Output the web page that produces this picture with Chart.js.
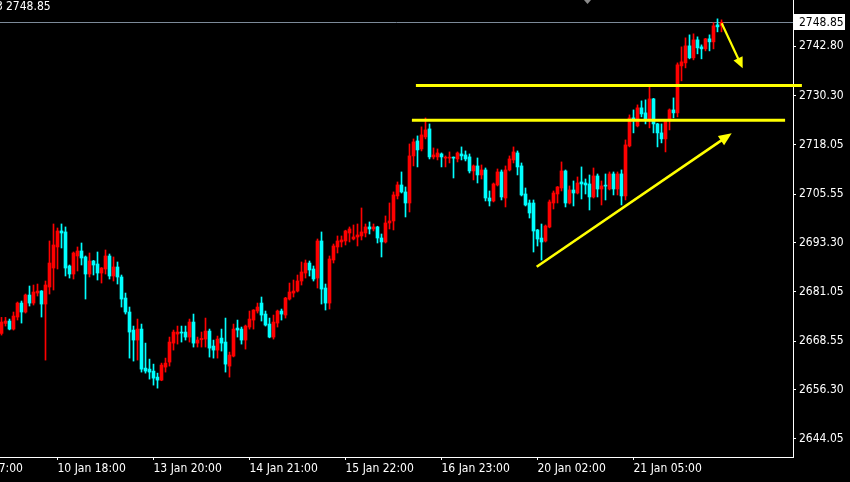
<!DOCTYPE html>
<html><head><meta charset="utf-8">
<script src="https://cdn.jsdelivr.net/npm/chart.js@4.4.1/dist/chart.umd.min.js"></script>
<style>html,body{margin:0;padding:0;background:#000;overflow:hidden}canvas{display:block}</style>
</head><body>
<canvas id="c" width="850" height="482"></canvas>
<script>
// ---- Data (H1 candles) ----
const opens = [2670.52,2673.04,2673.63,2671.61,2674.64,2678.16,2675.90,2680.18,2678.16,2680.68,
2681.19,2677.91,2682.20,2686.98,2692.28,2696.31,2696.06,2687.49,2685.47,2690.01,
2691.27,2689.76,2685.47,2688.75,2687.99,2685.72,2686.73,2690.01,2684.97,2687.24,
2684.72,2679.42,2675.90,2671.36,2668.84,2671.61,2661.78,2661.53,2661.03,2659.52,
2658.76,2662.04,2663.30,2668.08,2670.35,2670.86,2670.86,2669.60,2673.38,2668.08,
2668.92,2669.09,2671.11,2667.33,2666.32,2669.34,2668.34,2662.29,2664.81,2671.86,
2671.61,2668.84,2672.12,2673.88,2676.15,2678.16,2675.39,2672.87,2669.60,2673.12,
2676.15,2675.14,2679.17,2680.68,2681.19,2683.71,2685.72,2688.24,2686.73,2684.46,
2693.79,2681.94,2678.16,2689.00,2692.28,2693.54,2693.79,2695.80,2694.29,2694.80,
2695.05,2695.80,2697.32,2696.81,2697.32,2694.54,2693.54,2698.32,2698.83,2705.13,
2707.89,2706.13,2703.35,2715.20,2718.98,2716.96,2719.99,2722.00,2714.95,2714.95,
2715.70,2714.65,2714.65,2714.75,2714.44,2715.70,2715.45,2714.95,2711.42,2712.68,
2710.41,2711.67,2704.61,2703.86,2707.89,2711.17,2704.61,2711.67,2714.19,2715.95,
2712.68,2705.62,2703.35,2703.35,2696.55,2694.53,2693.78,2697.31,2703.35,2705.62,
2707.13,2711.42,2703.35,2706.63,2705.87,2708.65,2708.39,2708.14,2704.87,2710.16,
2706.88,2707.70,2706.88,2710.66,2706.88,2710.67,2705.13,2717.72,2724.78,2722.76,
2727.30,2726.04,2724.27,2729.56,2723.26,2721.00,2719.49,2724.02,2726.79,2726.04,
2737.87,2738.63,2742.91,2739.89,2744.42,2742.66,2742.16,2744.68,2743.92,2748.20,
2747.95];
const highs = [2674.55,2674.55,2674.13,2675.90,2678.42,2678.67,2680.43,2682.45,2682.70,2682.95,
2681.30,2683.71,2693.79,2698.07,2697.06,2698.07,2697.32,2687.74,2691.02,2692.28,
2693.28,2690.01,2690.76,2688.90,2691.02,2687.10,2691.52,2690.51,2689.76,2688.50,
2685.22,2680.68,2677.16,2672.37,2674.13,2672.87,2668.08,2664.05,2662.79,2660.52,
2663.04,2664.30,2669.60,2671.36,2672.37,2672.37,2672.37,2674.13,2675.39,2669.60,
2670.86,2674.38,2671.61,2668.84,2669.85,2671.61,2674.38,2665.82,2672.87,2673.88,
2672.12,2672.62,2676.15,2676.50,2678.16,2679.68,2676.15,2674.38,2675.14,2676.40,
2676.65,2679.60,2683.20,2683.96,2685.22,2688.50,2689.00,2688.75,2687.49,2694.29,
2696.06,2682.95,2690.01,2693.03,2695.05,2695.05,2696.50,2697.32,2697.82,2698.07,
2702.10,2698.07,2698.58,2698.07,2697.50,2695.55,2700.09,2703.36,2706.14,2708.65,
2711.17,2707.39,2718.22,2719.48,2720.24,2722.51,2724.77,2723.26,2717.21,2716.96,
2715.95,2715.20,2716.21,2714.95,2716.21,2717.47,2716.46,2715.70,2712.93,2714.69,
2712.93,2712.17,2706.38,2708.39,2711.92,2711.67,2712.68,2715.20,2717.47,2716.46,
2713.43,2707.13,2704.11,2704.11,2696.70,2698.06,2697.81,2704.11,2706.38,2707.50,
2713.69,2711.67,2707.64,2708.90,2709.91,2712.43,2709.40,2710.41,2712.17,2710.66,
2708.90,2710.66,2711.17,2711.17,2711.17,2711.68,2719.23,2725.53,2726.79,2728.05,
2729.06,2729.31,2732.58,2729.70,2723.40,2723.26,2724.20,2727.04,2729.81,2738.63,
2742.66,2744.93,2745.68,2745.94,2745.18,2743.16,2744.80,2745.68,2748.71,2749.71,
2749.46];
const lows = [2670.10,2672.37,2671.40,2671.36,2673.88,2673.12,2675.64,2677.41,2677.66,2679.93,
2674.64,2663.80,2680.43,2681.44,2686.73,2692.02,2684.97,2684.46,2684.21,2686.23,
2687.74,2679.17,2684.72,2685.22,2683.96,2683.20,2685.47,2684.21,2683.71,2682.95,
2677.16,2675.39,2664.30,2663.55,2663.80,2660.78,2660.52,2659.01,2657.50,2656.74,
2658.60,2660.78,2662.29,2666.32,2667.83,2668.34,2668.84,2668.34,2667.08,2667.08,
2667.08,2667.08,2664.56,2664.30,2664.30,2666.07,2660.78,2659.52,2664.60,2669.60,
2667.83,2666.57,2671.61,2671.61,2675.64,2673.63,2672.37,2669.40,2669.09,2672.12,
2673.88,2674.38,2678.92,2679.68,2680.94,2682.70,2684.46,2684.97,2683.71,2681.94,
2677.91,2676.40,2676.65,2688.24,2690.76,2692.28,2692.78,2693.54,2694.04,2692.53,
2694.04,2694.80,2695.55,2696.31,2693.28,2689.76,2693.28,2696.81,2696.56,2704.37,
2705.87,2699.83,2701.09,2712.68,2712.43,2716.46,2719.48,2714.44,2714.44,2714.19,
2712.43,2712.43,2713.43,2709.65,2713.69,2714.19,2713.94,2710.91,2709.15,2708.39,
2709.40,2703.86,2702.60,2703.61,2707.64,2704.11,2702.35,2711.42,2713.43,2710.41,
2705.12,2702.60,2699.57,2691.01,2692.52,2688.99,2693.53,2697.10,2701.84,2703.35,
2706.38,2702.35,2703.10,2702.60,2705.62,2704.36,2705.62,2701.59,2704.61,2704.87,
2702.85,2704.11,2706.63,2705.37,2705.37,2702.86,2704.12,2717.47,2721.00,2722.51,
2725.03,2723.26,2722.26,2721.00,2717.47,2718.48,2716.21,2721.75,2724.78,2725.03,
2734.10,2737.37,2739.64,2739.39,2740.90,2739.64,2741.65,2741.65,2742.16,2746.44,
2746.44];
const closes = [2673.38,2673.63,2671.61,2674.89,2678.16,2675.90,2680.18,2678.16,2680.94,2681.19,
2677.91,2682.70,2688.24,2692.78,2696.31,2695.80,2686.98,2685.47,2690.76,2691.27,
2689.50,2685.47,2688.75,2687.74,2685.72,2686.98,2690.01,2684.97,2687.24,2684.72,
2679.17,2675.90,2670.86,2668.84,2671.61,2661.53,2661.03,2660.78,2659.26,2658.76,
2662.54,2663.04,2668.34,2670.86,2670.86,2670.60,2669.60,2673.38,2668.08,2668.84,
2669.26,2671.11,2666.82,2666.32,2669.09,2668.08,2662.79,2665.06,2671.61,2671.36,
2668.84,2672.37,2674.13,2676.40,2677.16,2675.14,2672.62,2669.60,2673.38,2676.15,
2675.39,2679.42,2680.94,2681.19,2683.71,2685.98,2688.24,2686.48,2684.21,2693.79,
2681.69,2678.16,2689.25,2692.53,2693.79,2694.04,2696.31,2696.81,2694.80,2695.30,
2696.06,2697.32,2696.81,2697.32,2694.54,2693.54,2698.32,2698.83,2705.38,2707.90,
2706.13,2703.35,2715.20,2718.73,2716.71,2720.49,2721.75,2714.95,2715.45,2715.95,
2714.95,2714.75,2714.75,2714.65,2715.95,2715.20,2714.44,2711.42,2712.68,2710.41,
2711.67,2704.61,2703.86,2708.14,2711.17,2704.87,2711.67,2714.44,2716.21,2712.43,
2705.37,2702.85,2700.83,2696.30,2694.28,2693.53,2697.56,2703.61,2705.87,2707.39,
2711.42,2703.35,2706.63,2705.87,2708.39,2708.14,2707.89,2704.87,2710.16,2706.88,
2707.64,2707.60,2710.66,2706.88,2710.66,2705.13,2717.97,2724.78,2724.27,2727.30,
2725.78,2724.27,2729.56,2723.26,2721.00,2719.49,2724.02,2726.79,2726.04,2738.13,
2738.88,2742.91,2739.89,2744.42,2742.41,2742.16,2744.68,2743.92,2747.95,2747.70,
2748.85];

// Time-axis labels at bar indices
const xTickIndex  = [-10, 14, 38, 62, 86, 110, 134, 158];
const xTickLabels = ["9 Jan 17:00","10 Jan 18:00","13 Jan 20:00","14 Jan 21:00","15 Jan 22:00","16 Jan 23:00","20 Jan 02:00","21 Jan 05:00"];
// Price-axis labels
const yTickValues = [2742.80, 2730.30, 2718.05, 2705.55, 2693.30, 2681.05, 2668.55, 2656.30, 2644.05];
const lastPrice = 2748.85;

// Drawn annotations (bar index / price)
const levelPrices = [2732.93, 2724.17];
const levelFrom   = [103.6, 102.6];
const levelTo     = [200.1, 195.9];
const arrowFromIdx   = [133.8, 180.05];
const arrowFromPrice = [2687.31, 2748.59];
const arrowToIdx     = [182.55, 185.3];
const arrowToPrice   = [2720.90, 2737.26];

// ---- Chart ----
const idx = opens.map((_, i) => i);
const bodies = idx.map(i => ({x: i, y: [opens[i], closes[i]]}));
const wicks  = idx.map(i => ({x: i, y: [lows[i], highs[i]]}));
const colors = idx.map(i => closes[i] >= opens[i] ? '#ff0000' : '#00ffff');

const FONT = '"DejaVu Sans Condensed", "DejaVu Sans"';
const FSIZE = 12;

function drawArrow(ctx, x1, y1, x2, y2, lw, headLen, headHalf) {
  const dx = x2 - x1, dy = y2 - y1, L = Math.hypot(dx, dy);
  const ux = dx / L, uy = dy / L;
  const bx = x2 - ux * headLen, by = y2 - uy * headLen;
  ctx.strokeStyle = '#ffff00';
  ctx.fillStyle = '#ffff00';
  ctx.lineWidth = lw;
  ctx.beginPath(); ctx.moveTo(x1, y1); ctx.lineTo(bx + ux, by + uy); ctx.stroke();
  ctx.beginPath();
  ctx.moveTo(x2, y2);
  ctx.lineTo(bx - uy * headHalf, by + ux * headHalf);
  ctx.lineTo(bx + uy * headHalf, by - ux * headHalf);
  ctx.closePath(); ctx.fill();
}

const overlay = {
  id: 'overlay',
  beforeDraw(chart) {
    const c = chart.ctx;
    c.save(); c.fillStyle = '#000'; c.fillRect(0, 0, chart.width, chart.height); c.restore();
  },
  beforeDatasetsDraw(chart) {
    const c = chart.ctx, y = chart.scales.y, a = chart.chartArea;
    const py = Math.round(y.getPixelForValue(lastPrice)) + 0.5;
    c.save();
    c.strokeStyle = '#7c8a99'; c.lineWidth = 1;
    c.beginPath(); c.moveTo(a.left, py); c.lineTo(a.right, py); c.stroke();
    c.restore();
  },
  afterDatasetsDraw(chart) {
    const c = chart.ctx, x = chart.scales.x, y = chart.scales.y;
    c.save();
    c.strokeStyle = '#ffff00'; c.lineWidth = 3; c.lineCap = 'butt';
    levelPrices.forEach((p, k) => {
      const py = y.getPixelForValue(p);
      c.beginPath();
      c.moveTo(x.getPixelForValue(levelFrom[k]), py);
      c.lineTo(x.getPixelForValue(levelTo[k]), py);
      c.stroke();
    });
    drawArrow(c, x.getPixelForValue(arrowFromIdx[0]), y.getPixelForValue(arrowFromPrice[0]),
                 x.getPixelForValue(arrowToIdx[0]), y.getPixelForValue(arrowToPrice[0]), 2.6, 13, 5.5);
    drawArrow(c, x.getPixelForValue(arrowFromIdx[1]), y.getPixelForValue(arrowFromPrice[1]),
                 x.getPixelForValue(arrowToIdx[1]), y.getPixelForValue(arrowToPrice[1]), 2.2, 11, 5);
    c.restore();
  },
  afterDraw(chart) {
    const c = chart.ctx, y = chart.scales.y, a = chart.chartArea;
    const py = Math.round(y.getPixelForValue(lastPrice));
    c.save();
    // price box
    c.fillStyle = '#ffffff';
    c.fillRect(a.right + 1, py - 8, 51, 16);
    c.fillStyle = '#000000';
    c.font = FSIZE + 'px ' + FONT;
    c.textBaseline = 'middle'; c.textAlign = 'left';
    c.fillText(lastPrice.toFixed(2), a.right + 6, py + 0.5);
    // header text
    c.fillStyle = '#ffffff';
    c.fillText('3', -4, 7);
    c.fillText(lastPrice.toFixed(2), 6, 7);
    // small marker at top
    c.fillStyle = '#8a8a8a';
    c.beginPath(); c.moveTo(584, 0); c.lineTo(591, 0); c.lineTo(587.5, 4); c.closePath(); c.fill();
    c.restore();
  }
};

new Chart(document.getElementById('c'), {
  type: 'bar',
  data: {
    datasets: [
      {data: bodies, backgroundColor: colors, barThickness: 3, grouped: false, minBarLength: 1, borderWidth: 0},
      {data: wicks,  backgroundColor: colors, barThickness: 1, grouped: false, borderWidth: 0}
    ]
  },
  options: {
    responsive: false, animation: false, devicePixelRatio: 1, events: [],
    layout: {padding: 0},
    plugins: {legend: {display: false}, tooltip: {enabled: false}, title: {display: false}},
    scales: {
      x: {
        type: 'linear', min: -0.375, max: 197.875, offset: false, bounds: 'data',
        grid: {display: true, drawOnChartArea: false, drawTicks: true, tickLength: 3, color: '#ffffff', offset: false},
        border: {display: true, color: '#ffffff', width: 1},
        ticks: {
          autoSkip: false, maxRotation: 0, minRotation: 0, align: 'start', padding: 2,
          color: '#ffffff', font: {family: FONT, size: FSIZE},
          callback: (v) => { const k = xTickIndex.indexOf(v); return k >= 0 ? xTickLabels[k] : ''; }
        },
        afterBuildTicks: s => { s.ticks = xTickIndex.map(v => ({value: v})); },
        afterFit: s => { s.height = 25; s.paddingLeft = 0; s.paddingRight = 0; }
      },
      y: {
        type: 'linear', position: 'right', min: 2639.40, max: 2754.46, bounds: 'data',
        grid: {display: true, drawOnChartArea: false, drawTicks: true, tickLength: 3, color: '#ffffff'},
        border: {display: true, color: '#ffffff', width: 1},
        ticks: {
          padding: 3, color: '#ffffff', font: {family: FONT, size: FSIZE},
          callback: v => Number(v).toFixed(2)
        },
        afterBuildTicks: s => { s.ticks = yTickValues.map(v => ({value: v})); },
        afterFit: s => { s.width = 57; s.paddingTop = 0; s.paddingBottom = 0; }
      }
    }
  },
  plugins: [overlay]
});
</script>
</body></html>
